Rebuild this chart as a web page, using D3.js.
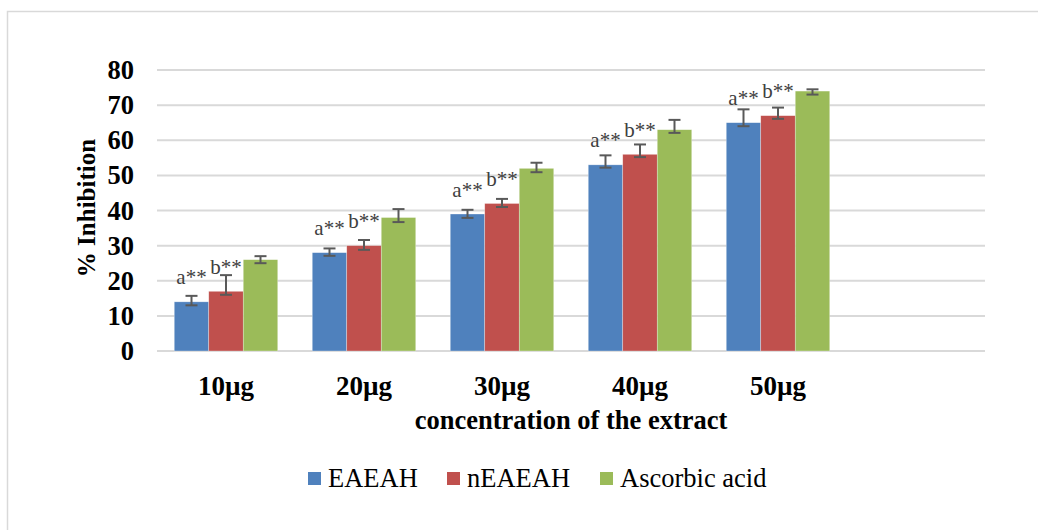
<!doctype html>
<html>

<head>
    <script src="https://cdnjs.cloudflare.com/ajax/libs/d3/7.8.5/d3.min.js"></script>
    <style>
        body {
            margin: 0;
            background: #fff;
        }

        svg text {
            font-family: "Liberation Serif", "Times New Roman", serif;
        }
    </style>
</head>

<body>
    <div id="viz"></div>
    <script>
        // data
        var categories = ["10µg", "20µg", "30µg", "40µg", "50µg"];
        var seriesNames = ["EAEAH", "nEAEAH", "Ascorbic acid"];
        var eaeah = [14, 28, 39, 53, 65];
        var neaeah = [17, 30, 42, 56, 67];
        var ascorbic = [26, 38, 52, 63, 74];
        var eaeahPlus = [1.7, 1.2, 1.2, 2.7, 3.8];
        var eaeahMinus = [1.0, 0.9, 1.1, 0.8, 1.0];
        var neaeahPlus = [4.6, 1.6, 1.3, 2.8, 2.3];
        var neaeahMinus = [1.0, 1.2, 1.0, 0.8, 0.9];
        var ascorbicPlus = [1.0, 2.4, 1.6, 2.8, 0.5];
        var ascorbicMinus = [1.0, 1.3, 1.1, 0.9, 1.0];
        var sigLabels = ["a**", "b**", ""];
        var yTicks = [0, 10, 20, 30, 40, 50, 60, 70, 80];

        var colors = ["#4F81BD", "#C0504D", "#9BBB59"];
        var values = [eaeah, neaeah, ascorbic];
        var plus = [eaeahPlus, neaeahPlus, ascorbicPlus];
        var minus = [eaeahMinus, neaeahMinus, ascorbicMinus];

        var width = 1038, height = 530;
        var margin = { top: 70, left: 157, right: 53, bottom: 179 };
        var serif = '"Liberation Serif", "Times New Roman", serif';

        var svg = d3.select("#viz").append("svg")
            .attr("width", width)
            .attr("height", height)
            .attr("font-family", serif);

        // chart frame
        svg.append("rect")
            .attr("x", 7.5).attr("y", 11.5)
            .attr("width", 1040).attr("height", 530)
            .attr("fill", "none")
            .attr("stroke", "#D9D9D9")
            .attr("stroke-width", 1.5);

        var y = d3.scaleLinear()
            .domain([0, 80])
            .range([height - margin.bottom, margin.top]);

        // one empty slot at the end, like in the original
        var x = d3.scaleBand()
            .domain(categories.concat([""]))
            .range([margin.left, width - margin.right])
            .paddingInner(0).paddingOuter(0);

        var x1 = d3.scaleBand()
            .domain(seriesNames)
            .range([0, x.bandwidth() * 0.75]);
        var groupOffset = x.bandwidth() * 0.125;

        // gridlines
        svg.append("g").selectAll("line")
            .data(yTicks)
            .enter().append("line")
            .attr("x1", margin.left)
            .attr("x2", width - margin.right)
            .attr("y1", d => y(d))
            .attr("y2", d => y(d))
            .attr("stroke", "#D9D9D9")
            .attr("stroke-width", 2);

        // y tick labels
        svg.append("g").selectAll("text")
            .data(yTicks)
            .enter().append("text")
            .attr("x", 134)
            .attr("y", d => y(d) + 9)
            .attr("text-anchor", "end")
            .style("font-family", serif)
            .style("font-size", "26.5px")
            .style("font-weight", "bold")
            .text(d => d);

        // x tick labels
        svg.append("g").selectAll("text")
            .data(categories)
            .enter().append("text")
            .attr("x", d => x(d) + x.bandwidth() / 2)
            .attr("y", 395)
            .attr("text-anchor", "middle")
            .style("font-family", serif)
            .style("font-size", "27px")
            .style("font-weight", "bold")
            .text(d => d);

        // axis titles
        svg.append("text")
            .attr("x", (margin.left + width - margin.right) / 2)
            .attr("y", 429)
            .attr("text-anchor", "middle")
            .style("font-family", serif)
            .style("font-size", "26.5px")
            .style("font-weight", "bold")
            .text("concentration of the extract");

        svg.append("text")
            .attr("transform", "translate(95,208)rotate(-90)")
            .attr("text-anchor", "middle")
            .style("font-family", serif)
            .style("font-size", "25px")
            .style("font-weight", "bold")
            .text("% Inhibition");

        // bars, error bars, labels
        seriesNames.forEach(function (name, s) {
            var g = svg.append("g");
            var rows = categories.map((c, i) => ({ c: c, v: values[s][i], p: plus[s][i], m: minus[s][i] }));
            var bx = d => x(d.c) + groupOffset + x1(name);

            g.selectAll("rect")
                .data(rows)
                .enter().append("rect")
                .attr("x", bx)
                .attr("y", d => y(d.v))
                .attr("width", x1.bandwidth())
                .attr("height", d => y(0) - y(d.v))
                .attr("fill", colors[s])
                .attr("stroke", "#fff")
                .attr("stroke-width", 0.6)
                .attr("stroke-opacity", 0.5);

            var eb = g.selectAll("g.err")
                .data(rows)
                .enter().append("g")
                .attr("class", "err")
                .attr("stroke", "#595959")
                .attr("stroke-width", 2);
            eb.append("line")
                .attr("x1", d => bx(d) + x1.bandwidth() / 2)
                .attr("x2", d => bx(d) + x1.bandwidth() / 2)
                .attr("y1", d => y(d.v + d.p))
                .attr("y2", d => y(d.v - d.m));
            eb.append("line")
                .attr("x1", d => bx(d) + x1.bandwidth() / 2 - 6)
                .attr("x2", d => bx(d) + x1.bandwidth() / 2 + 6)
                .attr("y1", d => y(d.v + d.p))
                .attr("y2", d => y(d.v + d.p));
            eb.append("line")
                .attr("x1", d => bx(d) + x1.bandwidth() / 2 - 6)
                .attr("x2", d => bx(d) + x1.bandwidth() / 2 + 6)
                .attr("y1", d => y(d.v - d.m))
                .attr("y2", d => y(d.v - d.m));

            if (sigLabels[s]) {
                g.selectAll("text")
                    .data(rows)
                    .enter().append("text")
                    .attr("x", d => bx(d) + x1.bandwidth() / 2)
                    .attr("y", d => y(d.v) - 17.5)
                    .attr("text-anchor", "middle")
                    .attr("fill", "#404040")
                    .style("font-family", serif)
                    .style("font-size", "21px")
                    .text(sigLabels[s]);
            }
        });

        // legend
        var legendX = [308, 447, 600];
        var legend = svg.append("g").selectAll("g")
            .data(seriesNames)
            .enter().append("g")
            .attr("transform", (d, i) => "translate(" + legendX[i] + ",472)");
        legend.append("rect")
            .attr("width", 13).attr("height", 13)
            .attr("fill", (d, i) => colors[i]);
        legend.append("text")
            .attr("x", 20)
            .attr("y", 15)
            .style("font-family", serif)
            .style("font-size", "26.5px")
            .text(d => d);
    </script>
</body>

</html>
